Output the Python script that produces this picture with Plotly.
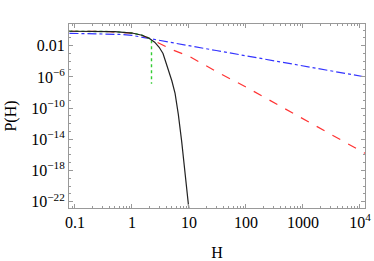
import plotly.graph_objects as go

# Data (H, P(H))
H_black = [0.08, 0.2, 0.5, 1, 1.5, 2, 2.5, 3, 3.5, 3.8, 4.5, 5, 5.7, 6.5, 7.45, 8.3, 9.1, 10, 10.5]
P_black = [0.71, 0.71, 0.63, 0.42, 0.22, 0.089, 0.028, 6.3e-3, 1e-3, 1.6e-4, 4e-6, 3.2e-7, 7.9e-9, 1.6e-11, 5e-15, 5e-18, 8e-21, 1e-23, 3.2e-25]

H_red = [0.08, 0.3, 1, 1.5, 2, 3, 5, 10, 30, 100, 300, 1000, 3000, 10000, 12300]
P_red = [0.71, 0.69, 0.42, 0.2, 0.089, 0.02, 3.2e-3, 4.5e-4, 5e-6, 5e-8, 5.6e-10, 4.5e-12, 4e-14, 3.5e-16, 1.6e-16]

H_blue = [0.08, 0.3, 0.6, 1, 2, 3, 5, 10, 30, 100, 300, 1000, 3000, 10000, 12300]
P_blue = [0.39, 0.355, 0.28, 0.21, 0.089, 0.052, 0.025, 0.01, 2.4e-3, 5e-4, 1.17e-4, 2.5e-5, 5.9e-6, 1.26e-6, 1e-6]

H_green = [0.08, 0.2, 0.5, 1, 1.5, 2, 2.2, 2.2]
P_green = [0.71, 0.71, 0.63, 0.42, 0.22, 0.089, 0.058, 1.3e-7]

x_ticks = [0.1, 1, 10, 100, 1000, 10000]
x_labels = ["0.1", "1", "10", "100", "1000", "10<sup>4</sup>"]
y_ticks = [1e-2, 1e-6, 1e-10, 1e-14, 1e-18, 1e-22]
y_labels = ["0.01", "10<sup>−6</sup>", "10<sup>−10</sup>", "10<sup>−14</sup>", "10<sup>−18</sup>", "10<sup>−22</sup>"]

x_minor = [m * 10.0 ** e for e in range(-2, 5) for m in range(2, 10)]
y_minor = [10.0 ** e for e in range(-24, 2)]

fig = go.Figure()
fig.add_trace(go.Scatter(x=H_blue, y=P_blue, mode="lines", line=dict(color="#3333ff", width=1.2, dash="dashdot")))
fig.add_trace(go.Scatter(x=H_red, y=P_red, mode="lines", line=dict(color="#ff3333", width=1.2, dash="dash")))
fig.add_trace(go.Scatter(x=H_green, y=P_green, mode="lines", line=dict(color="#33cc33", width=1.4, dash="dot")))
fig.add_trace(go.Scatter(x=H_black, y=P_black, mode="lines", line=dict(color="#222222", width=1.2)))

axis_common = dict(
    showgrid=False, zeroline=False, showline=True, linecolor="#999999", linewidth=1,
    mirror="ticks", ticks="inside", ticklen=4, tickcolor="#999999", automargin=False,
    ticklabeloverflow="allow",
    tickfont=dict(family="Liberation Serif", size=16, color="black"),
)

fig.update_xaxes(type="log", range=[-1.105, 4.088], tickvals=x_ticks, ticktext=x_labels,
                 minor=dict(tickvals=x_minor, ticks="inside", ticklen=2, tickcolor="#999999"),
                 title=dict(text="H", font=dict(family="Liberation Serif", size=16, color="black"), standoff=18),
                 **axis_common)
fig.update_yaxes(type="log", range=[-22.8, 0.78], tickvals=y_ticks, ticktext=y_labels,
                 minor=dict(tickvals=y_minor, ticks="inside", ticklen=2, tickcolor="#999999"),
                 title=dict(text="P(H)", font=dict(family="Liberation Serif", size=16, color="black"), standoff=10),
                 **axis_common)

fig.update_layout(width=374, height=261, margin=dict(l=69, r=9, t=24, b=53, autoexpand=False),
                  paper_bgcolor="white", plot_bgcolor="white", showlegend=False)

fig.write_html("out.html", config={"displayModeBar": False},
               post_script="document.body.style.margin='0';document.body.style.overflow='hidden';")
